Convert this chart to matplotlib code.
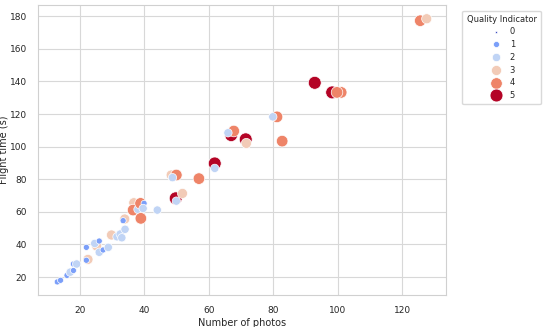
import numpy as np
import matplotlib
matplotlib.use("Agg")
import matplotlib.pyplot as plt
import seaborn as sns
from matplotlib.lines import Line2D

# photos, flight time, quality indicator (drawing order matters for overlaps)
photos = [13, 14, 16, 17, 18, 18, 19, 22.5, 22, 22, 25.2, 24.6, 26, 26, 27.2, 28.8,
          29.8, 31.5, 32.5, 33, 34, 33.9, 33.4, 36.7, 36.5, 38, 38.8, 39.9, 39.6,
          38.9, 44, 48.3, 49.9, 48.7, 49.7, 49.9, 51.8, 56.9, 61.8, 61.8,
          66.9, 67.7, 65.9, 71.4, 71.6, 81.1, 79.8, 82.7, 92.8, 98.2, 101, 99.7,
          125.5, 127.5]
flight = [17, 18, 21, 23, 24, 28, 28, 30.8, 30.3, 38.2, 39, 40.6, 42.1, 35.2, 36.6, 38.2,
          45.8, 44.7, 46.4, 44.1, 49.3, 55.6, 54.6, 65.6, 61.1, 61.5, 65.2, 65.2, 62.1,
          56, 61.1, 82.6, 82.6, 81, 68.3, 66.6, 71.3, 80.4, 89.7, 86.7,
          107.1, 109.6, 108.5, 104.5, 102, 118.3, 118.3, 103.4, 139.2, 133.3, 133.3, 133.3,
          177.3, 178.5]
quality = [1, 1, 1, 2, 1, 1, 2, 3, 1, 1, 3, 2, 1, 2, 1, 2,
           3, 2, 2, 2, 2, 3, 1, 3, 4, 2, 4, 1, 2,
           4, 2, 3, 4, 2, 5, 2, 3, 4, 5, 2,
           5, 4, 2, 5, 3, 4, 2, 4, 5, 5, 4, 4,
           4, 3]
levels = [0, 1, 2, 3, 4, 5]

sns.set_theme(style="whitegrid")
plt.rcParams['font.family'] = ['DejaVu Sans']

cmap = plt.get_cmap("coolwarm")
norm = matplotlib.colors.Normalize(0, 5)
smin, smax = 2.5, 86


def size_of(q):
    return smin + (smax - smin) * q / 5


fig = plt.figure(figsize=(5.5, 3.27), dpi=100)
ax = fig.add_axes([0.069, 0.098, 0.742, 0.887])

q = np.array(quality)
ax.scatter(photos, flight, c=cmap(norm(q)), s=size_of(q), edgecolors="white",
           linewidths=0.5, zorder=3)

ax.set_xlim(7, 133.5)
ax.set_ylim(9, 187)
ax.set_xticks([20, 40, 60, 80, 100, 120])
ax.set_yticks([20, 40, 60, 80, 100, 120, 140, 160, 180])
ax.tick_params(labelsize=6.5, pad=2)
ax.set_xlabel("Number of photos", fontsize=7, labelpad=2)
ax.set_ylabel("Flight time (s)", fontsize=7)
ax.yaxis.set_label_coords(-0.072, 0.5)
for sp in ax.spines.values():
    sp.set_color("#d0d0d0")
    sp.set_linewidth(0.8)
ax.grid(color="#d8d8d8", linewidth=0.8)

handles = [Line2D([], [], linestyle="", marker="o", markersize=np.sqrt(size_of(l)),
                  markerfacecolor=cmap(norm(l)), markeredgecolor="white",
                  markeredgewidth=0.5) for l in levels]
leg = ax.legend(handles, [str(l) for l in levels], title="Quality Indicator",
                loc="upper left", bbox_to_anchor=(1.03, 0.995), fontsize=6,
                title_fontsize=6, frameon=True, labelspacing=0.45,
                handletextpad=0.6, borderpad=0.5)
leg.get_frame().set_edgecolor("#d0d0d0")

fig.savefig("out.png", dpi=100)
